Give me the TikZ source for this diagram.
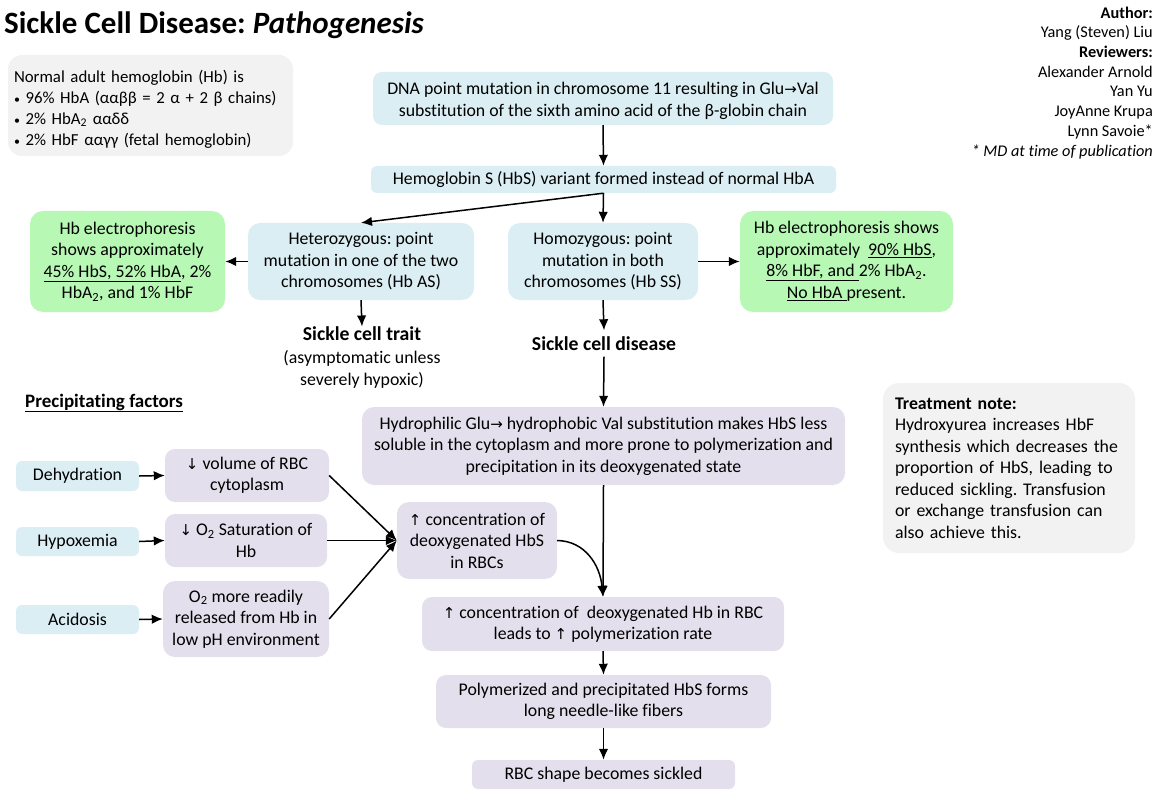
\documentclass[tikz,border=0pt]{standalone}
\usepackage{fontspec}
\setmainfont{Carlito}[Ligatures=NoCommon]
\newfontfamily\symf{DejaVu Sans}
\usetikzlibrary{arrows.meta}
\definecolor{cblue}{HTML}{DBEEF4}
\definecolor{cgreen}{HTML}{B7F9B4}
\definecolor{cpurp}{HTML}{E4DFEC}
\definecolor{cgray}{HTML}{F2F2F2}
\frenchspacing
\newcommand{\fs}{\fontsize{17.8}{21.5}\selectfont}
\newcommand{\ar}[1]{{\symf\fontsize{15}{15}\selectfont #1}}
\newcommand{\bul}{{\fontsize{12}{12}\selectfont•}}
\tikzset{
  bx/.style={rounded corners=9pt, inner sep=0pt, align=center, font=\fs},
  bbox/.style={bx, fill=cblue},
  gbox/.style={bx, fill=cgreen, rounded corners=13pt},
  pbox/.style={bx, fill=cpurp},
  grbox/.style={bx, fill=cgray, rounded corners=16pt},
  arr/.style={line width=1.5pt, -{Latex[length=11pt,width=9.5pt]}},
}
\begin{document}
\begin{tikzpicture}[x=1pt,y=-1pt]
\useasboundingbox (0,0) rectangle (1162,805);
% title
\node[anchor=base west, inner sep=0pt, font=\fontsize{31}{35}\selectfont\bfseries] (title) at (4,34) {Sickle Cell Disease: \textit{Pathogenesis}};
% credits
\node[anchor=north east, inner sep=0pt, align=right, font=\fontsize{16.3}{19.7}\selectfont] (credits) at (1153,6.5)
 {\textbf{Author:}\\Yang (Steven) Liu\\\textbf{Reviewers:}\\Alexander Arnold\\Yan Yu\\JoyAnne Krupa\\Lynn Savoie*\\\textit{* MD at time of publication}};
% normal box
\node[grbox, rounded corners=14pt, minimum width=285pt, minimum height=101pt, text width=273pt, align=left, font=\fontsize{16.8}{21}\selectfont] (norm) at (150.5,105.5)
 {\rule{0pt}{19pt}Normal adult hemoglobin (Hb) is\\
 \bul{} 96\% HbA (ααββ = 2 α + 2 β chains)\\
 \bul{} 2\% HbA\textsubscript{2} ααδδ\\
 \bul{} 2\% HbF ααγγ (fetal hemoglobin)};
% main chain
\node[bbox, minimum width=460pt, minimum height=53pt] (dna) at (603,98.5)
 {\rule{0pt}{17pt}DNA point mutation in chromosome 11 resulting in Glu\ar{→}Val\\substitution of the sixth amino acid of the β-globin chain};
\node[bbox, rounded corners=6pt, minimum width=465pt, minimum height=27pt] (hbs) at (603.5,179.5)
 {Hemoglobin S (HbS) variant formed instead of normal HbA};
\node[bbox, rounded corners=12pt, minimum width=226pt, minimum height=77pt] (het) at (361,261.5)
 {Heterozygous: point\\mutation in one of the two\\chromosomes (Hb AS)};
\node[bbox, rounded corners=12pt, minimum width=190pt, minimum height=77pt] (hom) at (603,261.5)
 {Homozygous: point\\mutation in both\\chromosomes (Hb SS)};
\node[gbox, minimum width=195pt, minimum height=101pt] (gl) at (127.5,261.5)
 {Hb electrophoresis\\shows approximately\\\underline{45\% HbS, 52\% HbA}, 2\%\\HbA\textsubscript{2}, and 1\% HbF};
\node[gbox, minimum width=213pt, minimum height=101pt] (gr) at (846.5,261.5)
 {Hb electrophoresis shows\\approximately\ \ \underline{90\% HbS},\\\underline{8\% HbF, and }2\% HbA\textsubscript{2}.\\\underline{No HbA }present.};
\node[anchor=north, inner sep=0pt, align=center, font=\fontsize{17.8}{22.5}\selectfont] (trait) at (362,326.5)
 {{\fontsize{19.7}{22}\selectfont\bfseries Sickle cell trait}\\(asymptomatic unless\\severely hypoxic)};
\node[inner sep=0pt, font=\fontsize{19.7}{22}\selectfont\bfseries, minimum height=26pt] (dis) at (604,343.5) {Sickle cell disease};
\node[anchor=base west, inner sep=0pt, font=\fontsize{19}{22}\selectfont\bfseries] (prec) at (25,407) {\underline{Precipitating factors}};
\node[pbox, rounded corners=12pt, minimum width=483pt, minimum height=78pt] (hyd) at (603.5,446)
 {Hydrophilic Glu\ar{→} hydrophobic Val substitution makes HbS less\\soluble in the cytoplasm and more prone to polymerization and\\precipitation in its deoxygenated state};
% precipitating factors
\node[bbox, rounded corners=6pt, minimum width=123pt, minimum height=30pt] (dehy) at (77.5,476) {Dehydration};
\node[bbox, rounded corners=6pt, minimum width=123pt, minimum height=29pt] (hypo) at (77.5,541.5) {Hypoxemia};
\node[bbox, rounded corners=6pt, minimum width=123pt, minimum height=29pt] (acid) at (77.5,619.5) {Acidosis};
\node[pbox, rounded corners=10pt, minimum width=164pt, minimum height=53pt] (vol) at (247,475.5) {\ar{↓} volume of RBC\\cytoplasm};
\node[pbox, rounded corners=10pt, minimum width=162pt, minimum height=53pt] (o2s) at (246,540.5) {\ar{↓} O\textsubscript{2} Saturation of\\Hb};
\node[pbox, rounded corners=12pt, minimum width=166pt, minimum height=76pt] (o2m) at (246,619) {O\textsubscript{2} more readily\\released from Hb in\\low pH environment};
\node[pbox, rounded corners=12pt, minimum width=160pt, minimum height=77pt] (chbs) at (477,540.5) {\ar{↑} concentration of\\deoxygenated HbS\\in RBCs};
\node[pbox, rounded corners=10pt, minimum width=362pt, minimum height=54pt] (chb) at (603,624) {\ar{↑} concentration of\ \ deoxygenated Hb in RBC\\leads to \ar{↑} polymerization rate};
\node[pbox, rounded corners=10pt, minimum width=335pt, minimum height=53pt] (poly) at (603.5,701.5) {Polymerized and precipitated HbS forms\\long needle-like fibers};
\node[pbox, rounded corners=6pt, minimum width=263pt, minimum height=29pt] (rbc) at (603.5,774.5) {RBC shape becomes sickled};
% treatment
\node[grbox, minimum width=252pt, minimum height=170pt, text width=228pt, align=left] (treat) at (1009,468)
 {\textbf{Treatment note:}\\Hydroxyurea increases HbF\\synthesis which decreases the\\proportion of HbS, leading to\\reduced sickling. Transfusion\\or exchange transfusion can\\also achieve this.};
% arrows
\draw[arr] (dna.south) -- (hbs.north);
\draw[arr] (hbs.south) -- (het.north);
\draw[arr] (hbs.south) -- (hom.north);
\draw[arr] (het.west) -- (gl.east);
\draw[arr] (hom.east) -- (gr.west);
\draw[arr] (het.south) -- (trait.north);
\draw[arr] (hom.south) -- (dis.north);
\draw[arr] (dis.south) -- (hyd.north);
\draw[arr] (hyd.south) -- (chb.north);
\draw[arr] (dehy.east) -- (vol.west);
\draw[arr] (hypo.east) -- (o2s.west);
\draw[arr] (acid.east) -- (o2m.west);
\draw[arr] (vol.east) -- (chbs.west);
\draw[arr] (o2s.east) -- (chbs.west);
\draw[arr] (o2m.east) -- (chbs.west);
\draw[arr] (chbs.east) .. controls (585,541) and (600,565) .. (chb.north);
\draw[arr] (chb.south) -- (poly.north);
\draw[arr] (poly.south) -- (rbc.north);
\end{tikzpicture}
\end{document}
